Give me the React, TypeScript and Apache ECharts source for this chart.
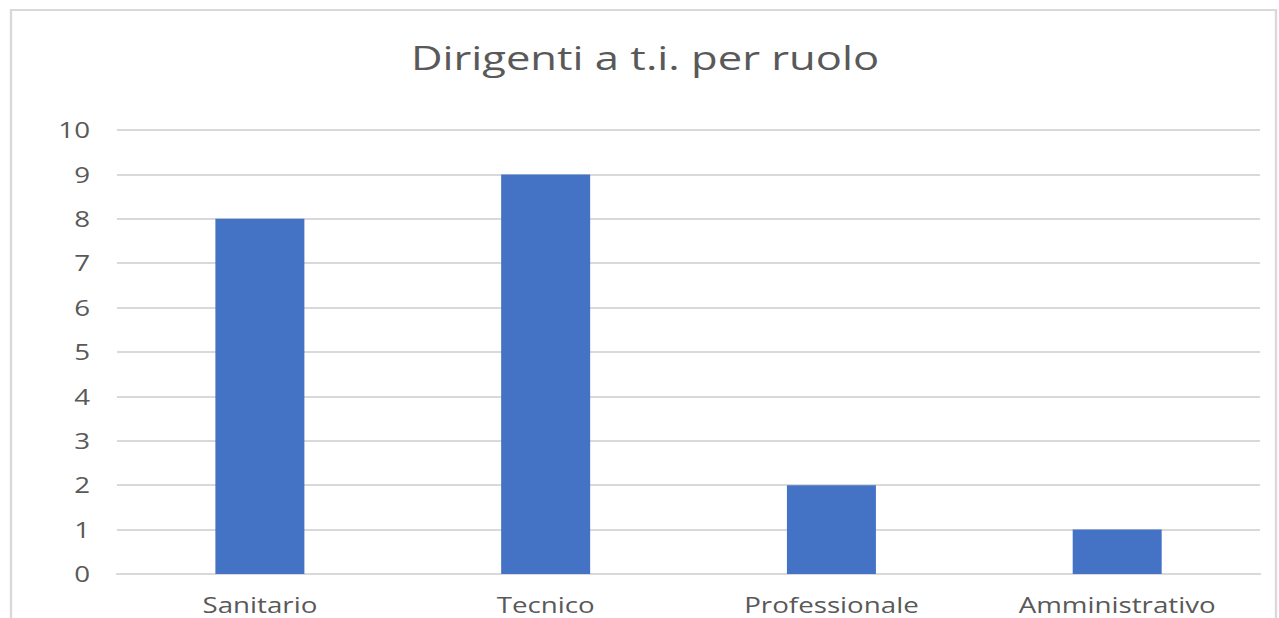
import React, { useEffect, useRef } from "react";
import * as echarts from "echarts";

const categories = ["Sanitario", "Tecnico", "Professionale", "Amministrativo"];
const values = [8, 9, 2, 1];
const yTicks = [0, 1, 2, 3, 4, 5, 6, 7, 8, 9, 10];
const titleText = "Dirigenti a t.i. per ruolo";

const S = 1.32; // horizontal stretch of the reference picture
const W = 1279 / S;

export default function App() {
  const ref = useRef<HTMLDivElement>(null);
  useEffect(() => {
    if (!ref.current) return;
    const chart = echarts.init(ref.current, undefined, { renderer: "svg" });
    chart.setOption({
      animation: false,
      backgroundColor: "#ffffff",
      textStyle: { fontFamily: "Open Sans" },
      graphic: [
        {
          type: "rect",
          shape: { x: 11 / S, y: 10, width: 1265 / S, height: 640 },
          style: { fill: "none", stroke: "#d9d9d9", lineWidth: 1.8 },
          silent: true,
        },
        {
          type: "text",
          x: 645 / S,
          y: 57,
          style: {
            text: titleText,
            fontSize: 33,
            fontFamily: "Open Sans",
            fill: "#595959",
            textAlign: "center",
            textVerticalAlign: "middle",
          },
        },
      ],
      grid: { left: 117 / S, right: 19 / S, top: 130, bottom: 44 },
      xAxis: {
        type: "category",
        data: categories,
        axisLine: { show: true, lineStyle: { color: "#d9d9d9", width: 2 } },
        axisTick: { show: false },
        axisLabel: { fontSize: 21, color: "#595959", margin: 20, fontFamily: "Open Sans" },
      },
      yAxis: {
        type: "value",
        min: yTicks[0],
        max: yTicks[yTicks.length - 1],
        interval: 1,
        axisLine: { show: false },
        axisTick: { show: false },
        splitLine: { lineStyle: { color: "#d9d9d9", width: 2 } },
        axisLabel: { fontSize: 21, color: "#595959", margin: 27 / S, fontFamily: "Open Sans" },
      },
      series: [
        {
          type: "bar",
          data: values,
          barWidth: 89 / S,
          itemStyle: { color: "#4472c4" },
        },
      ],
    });
    return () => chart.dispose();
  }, []);
  return (
    <div
      ref={ref}
      style={{
        position: "fixed",
        left: 0,
        top: 0,
        width: W,
        height: 618,
        transform: `scaleX(${S})`,
        transformOrigin: "0 0",
      }}
    />
  );
}
